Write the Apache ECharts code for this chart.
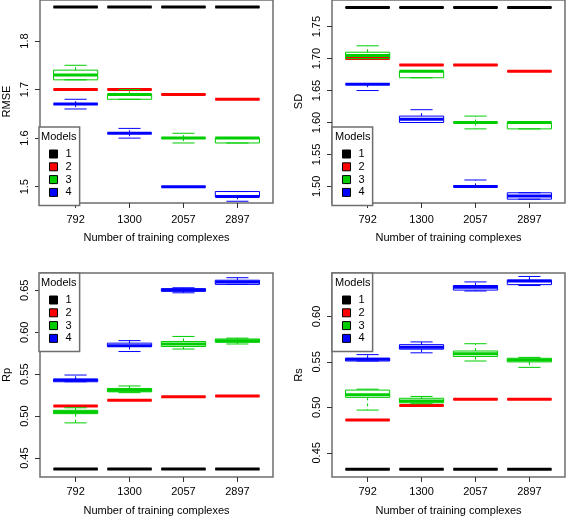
<!DOCTYPE html>
<html><head><meta charset="utf-8">
<script src="https://cdn.jsdelivr.net/npm/echarts@6/dist/echarts.min.js"></script>
<style>html,body{margin:0;padding:0;background:#fff}#c{width:566px;height:517px}</style>
</head><body><div id="c"></div>
<script>
// ---------------- data ----------------
const categories = ['792', '1300', '2057', '2897'];
const modelNames = ['1', '2', '3', '4'];
const modelColors = ['#000000', '#FF0000', '#00CD00', '#0000FF'];
const xAxisTitle = 'Number of training complexes';

// each row per category: [min, q1, median, q3, max]
const rmseM1 = [[1.87,1.87,1.87,1.87,1.87],[1.87,1.87,1.87,1.87,1.87],[1.87,1.87,1.87,1.87,1.87],[1.87,1.87,1.87,1.87,1.87]];
const rmseM2 = [[1.70,1.70,1.70,1.70,1.70],[1.70,1.70,1.70,1.70,1.70],[1.69,1.69,1.69,1.69,1.69],[1.68,1.68,1.68,1.68,1.68]];
const rmseM3 = [[1.72,1.72,1.73,1.74,1.75],[1.68,1.68,1.69,1.69,1.70],[1.59,1.60,1.60,1.60,1.61],[1.59,1.59,1.60,1.60,1.60]];
const rmseM4 = [[1.66,1.67,1.67,1.67,1.68],[1.60,1.61,1.61,1.61,1.62],[1.50,1.50,1.50,1.50,1.50],[1.47,1.48,1.48,1.49,1.49]];

const sdM1 = [[1.78,1.78,1.78,1.78,1.78],[1.78,1.78,1.78,1.78,1.78],[1.78,1.78,1.78,1.78,1.78],[1.78,1.78,1.78,1.78,1.78]];
const sdM2 = [[1.70,1.70,1.70,1.70,1.70],[1.69,1.69,1.69,1.69,1.69],[1.69,1.69,1.69,1.69,1.69],[1.68,1.68,1.68,1.68,1.68]];
const sdM3 = [[1.70,1.70,1.705,1.71,1.72],[1.67,1.67,1.68,1.68,1.68],[1.59,1.60,1.60,1.60,1.61],[1.59,1.59,1.60,1.60,1.60]];
const sdM4 = [[1.65,1.66,1.66,1.66,1.66],[1.60,1.60,1.605,1.61,1.62],[1.50,1.50,1.50,1.50,1.51],[1.48,1.48,1.485,1.49,1.49]];

const rpM1 = [[0.437,0.437,0.437,0.437,0.437],[0.437,0.437,0.437,0.437,0.437],[0.437,0.437,0.437,0.437,0.437],[0.437,0.437,0.437,0.437,0.437]];
const rpM2 = [[0.512,0.512,0.512,0.512,0.512],[0.519,0.519,0.519,0.519,0.519],[0.523,0.523,0.523,0.523,0.523],[0.524,0.524,0.524,0.524,0.524]];
const rpM3 = [[0.492,0.503,0.505,0.507,0.510],[0.528,0.529,0.531,0.533,0.536],[0.580,0.583,0.586,0.589,0.595],[0.586,0.588,0.590,0.592,0.593]];
const rpM4 = [[0.541,0.541,0.543,0.544,0.549],[0.577,0.583,0.584,0.587,0.590],[0.647,0.649,0.650,0.652,0.653],[0.657,0.657,0.660,0.662,0.665]];

const rsM1 = [[0.432,0.432,0.432,0.432,0.432],[0.432,0.432,0.432,0.432,0.432],[0.432,0.432,0.432,0.432,0.432],[0.432,0.432,0.432,0.432,0.432]];
const rsM2 = [[0.486,0.486,0.486,0.486,0.486],[0.502,0.502,0.502,0.502,0.502],[0.509,0.509,0.509,0.509,0.509],[0.509,0.509,0.509,0.509,0.509]];
const rsM3 = [[0.497,0.511,0.514,0.519,0.520],[0.504,0.505,0.507,0.510,0.512],[0.551,0.556,0.559,0.562,0.570],[0.544,0.550,0.552,0.554,0.555]];
const rsM4 = [[0.551,0.551,0.553,0.554,0.558],[0.560,0.564,0.566,0.569,0.572],[0.628,0.629,0.632,0.634,0.638],[0.634,0.635,0.639,0.640,0.644]];

const rmseTicks = [1.5, 1.6, 1.7, 1.8];
const sdTicks = [1.50, 1.55, 1.60, 1.65, 1.70, 1.75];
const rpTicks = [0.45, 0.50, 0.55, 0.60, 0.65];
const rsTicks = [0.45, 0.50, 0.55, 0.60];

// ---------------- layout ----------------
const FONT = '"Liberation Sans", Arial, Helvetica, sans-serif';
const FRAME = '#6e6e6e';
const panels = [
  { yName: 'RMSE', models: [rmseM1, rmseM2, rmseM3, rmseM4], ticks: rmseTicks, dec: 1, ymin: 1.4664, ymax: 1.8844,
    grid: { left: 39, top: 0, width: 234, height: 203 }, legend: { left: 39, top: 127 }, title: { left: 41, top: 131 }, lm: 11, ng: 29 },
  { yName: 'SD', models: [sdM1, sdM2, sdM3, sdM4], ticks: sdTicks, dec: 2, ymin: 1.474, ymax: 1.7917,
    grid: { left: 332, top: 0, width: 233, height: 203 }, legend: { left: 332, top: 127 }, title: { left: 335, top: 131 }, lm: 11, ng: 29 },
  { yName: 'Rp', models: [rpM1, rpM2, rpM3, rpM4], ticks: rpTicks, dec: 2, ymin: 0.4275, ymax: 0.6706,
    grid: { left: 39, top: 273, width: 234, height: 205 }, legend: { left: 39, top: 273 }, title: { left: 41, top: 277 }, lm: 9, ng: 28 },
  { yName: 'Rs', models: [rsM1, rsM2, rsM3, rsM4], ticks: rsTicks, dec: 2, ymin: 0.4234, ymax: 0.6478,
    grid: { left: 332, top: 273, width: 233, height: 205 }, legend: { left: 332, top: 273 }, title: { left: 335, top: 277 }, lm: 9, ng: 28 }
];

const BOX_HALF = 0.41;

function renderBox(params, api) {
  const x = api.value(0);
  const mn = api.value(1), q1 = api.value(2), md = api.value(3), q3 = api.value(4), mx = api.value(5);
  const color = api.visual('color');
  const cw = BOX_HALF / 2;
  const tl = api.coord([x - BOX_HALF, q3]);
  const br = api.coord([x + BOX_HALF, q1]);
  const mL = api.coord([x - BOX_HALF, md]);
  const mR = api.coord([x + BOX_HALF, md]);
  const pMax = api.coord([x, mx]);
  const pMin = api.coord([x, mn]);
  const pQ3 = api.coord([x, q3]);
  const pQ1 = api.coord([x, q1]);
  const cL = api.coord([x - cw, mx])[0];
  const cR = api.coord([x + cw, mx])[0];
  const children = [];
  if (mx > q3) {
    children.push({ type: 'line', shape: { x1: pQ3[0], y1: pQ3[1], x2: pMax[0], y2: pMax[1] }, style: { stroke: color, lineWidth: 1, lineDash: [3, 3] } });
  }
  if (mn < q1) {
    children.push({ type: 'line', shape: { x1: pQ1[0], y1: pQ1[1], x2: pMin[0], y2: pMin[1] }, style: { stroke: color, lineWidth: 1, lineDash: [3, 3] } });
  }
  children.push({ type: 'line', shape: { x1: cL, y1: pMax[1], x2: cR, y2: pMax[1] }, style: { stroke: color, lineWidth: 1 } });
  children.push({ type: 'line', shape: { x1: cL, y1: pMin[1], x2: cR, y2: pMin[1] }, style: { stroke: color, lineWidth: 1 } });
  children.push({ type: 'rect', shape: { x: tl[0], y: tl[1], width: br[0] - tl[0], height: br[1] - tl[1] }, style: { fill: 'none', stroke: color, lineWidth: 1 } });
  children.push({ type: 'line', shape: { x1: mL[0], y1: mL[1], x2: mR[0], y2: mR[1] }, style: { stroke: color, lineWidth: 3 } });
  return { type: 'group', children };
}

const option = { animation: false, backgroundColor: '#fff', grid: [], xAxis: [], yAxis: [], series: [], legend: [], title: [] };

panels.forEach((p, i) => {
  option.grid.push(Object.assign({ show: true, borderColor: FRAME, borderWidth: 1.5, backgroundColor: 'transparent' }, p.grid));
  option.xAxis.push({
    type: 'value', gridIndex: i, min: 0.34, max: 4.66,
    name: xAxisTitle, nameLocation: 'middle', nameGap: p.ng,
    nameTextStyle: { fontFamily: FONT, fontSize: 11, color: '#000' },
    axisLine: { show: false }, splitLine: { show: false },
    axisTick: { show: true, length: 5, lineStyle: { color: '#333' }, customValues: [1, 2, 3, 4] },
    axisLabel: { customValues: [1, 2, 3, 4], margin: p.lm, fontFamily: FONT, fontSize: 11, color: '#000',
      formatter: v => categories[Math.round(v) - 1] || '' }
  });
  option.yAxis.push({
    type: 'value', gridIndex: i, min: p.ymin, max: p.ymax,
    name: p.yName, nameLocation: 'middle', nameGap: 28,
    nameTextStyle: { fontFamily: FONT, fontSize: 11, color: '#000' },
    axisLine: { show: false }, splitLine: { show: false },
    axisTick: { show: true, length: 5, lineStyle: { color: '#333' }, customValues: p.ticks },
    axisLabel: { customValues: p.ticks, rotate: 90, margin: 10, fontFamily: FONT, fontSize: 11, color: '#000',
      formatter: v => v.toFixed(p.dec) }
  });
  p.models.forEach((m, k) => {
    option.series.push({
      type: 'custom', name: modelNames[k], xAxisIndex: i, yAxisIndex: i,
      itemStyle: { color: modelColors[k] },
      encode: { x: 0, y: [1, 2, 3, 4, 5] },
      renderItem: renderBox,
      data: m.map((r, c) => [c + 1].concat(r))
    });
  });
  option.legend.push({
    left: p.legend.left, top: p.legend.top, orient: 'vertical',
    data: modelNames.map(n => ({ name: n, icon: 'rect' })),
    itemWidth: 8, itemHeight: 8, itemGap: 0.8,
    padding: [21, 8, 7, 10],
    backgroundColor: '#fff', borderColor: FRAME, borderWidth: 1.5, borderRadius: 0,
    itemStyle: { borderColor: '#000', borderWidth: 1 },
    textStyle: { fontFamily: FONT, fontSize: 11, color: '#000', lineHeight: 12, padding: [0, 0, 0, 3] },
    selectedMode: false, z: 10
  });
  option.title.push({
    text: 'Models', left: p.title.left, top: p.title.top, padding: 0, z: 11,
    textStyle: { fontFamily: FONT, fontSize: 11, fontWeight: 'normal', color: '#000' }
  });
});

const chart = echarts.init(document.getElementById('c'), null, { renderer: 'canvas' });
chart.setOption(option);
</script></body></html>
